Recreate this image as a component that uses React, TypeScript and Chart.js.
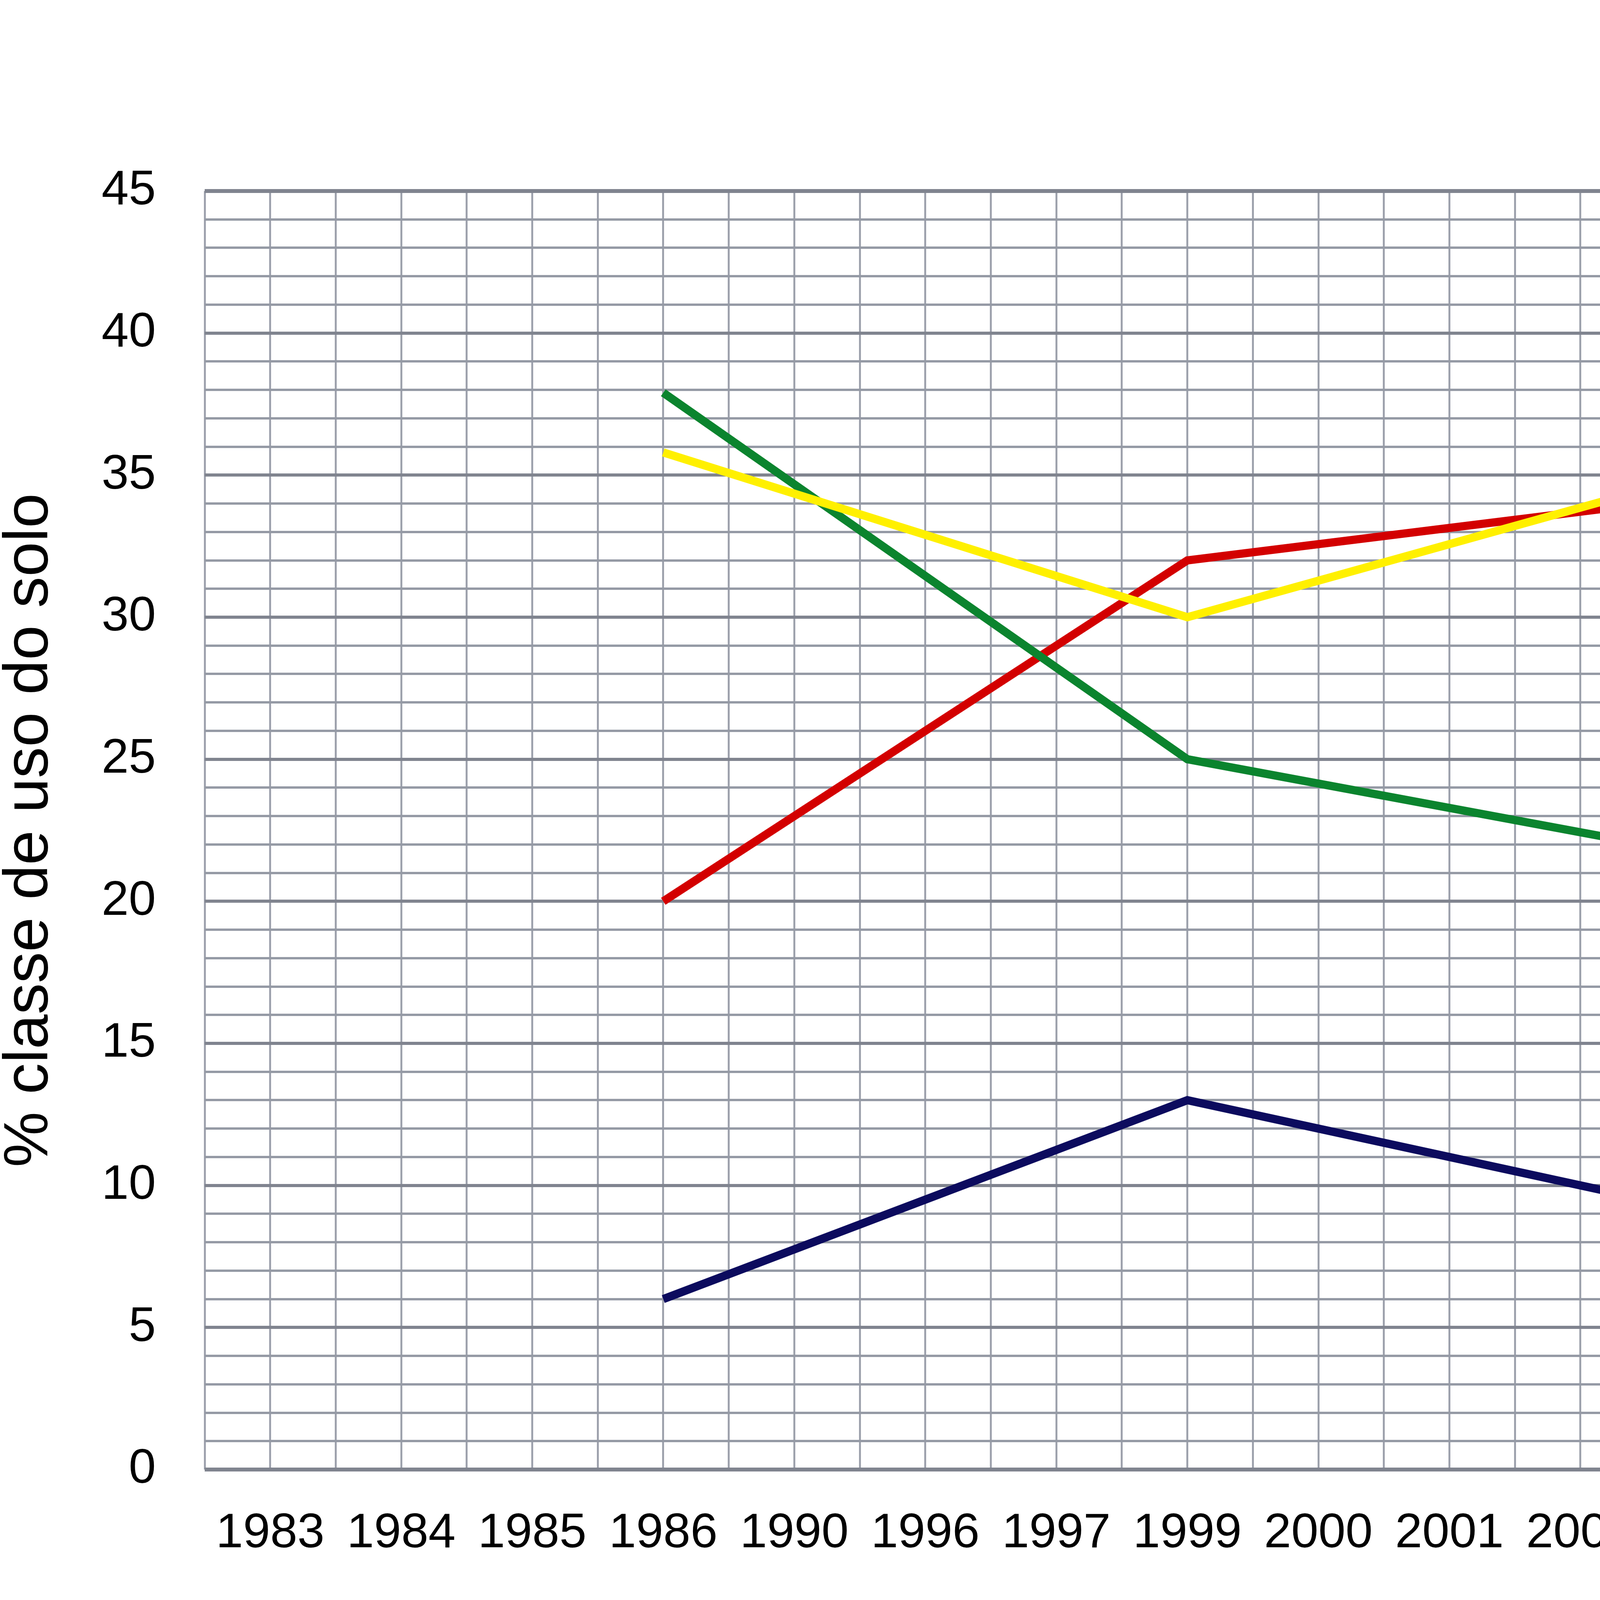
import { useEffect, useRef } from 'react';
import { Chart, registerables } from 'chart.js';

Chart.register(...registerables);

const FONT = '"Liberation Sans", Arial, sans-serif';

const years = ['1983', '1984', '1985', '1986', '1990', '1996', '1997', '1999', '2000', '2001', '2002', '2003', '2004', '2005', '2006', '2009', '2010', '2011', '2012'];

// land-use classes (%), only 1986, 1999, 2006 and 2011 were mapped
const urbano = [null, null, null, 6, null, null, null, 13, null, null, null, null, null, null, 6, null, null, 3.9, null];
const formacaoArborea = [null, null, null, 20, null, null, null, 32, null, null, null, null, null, null, 36, null, null, 39, null];
const campo = [null, null, null, 37.9, null, null, null, 25, null, null, null, null, null, null, 19, null, null, 26, null];
const soloExposto = [null, null, null, 35.8, null, null, null, 30, null, null, null, null, null, null, 39, null, null, 31, null];
// annual mean IQA
const iqa = [null, null, null, null, null, null, null, null, null, null, null, null, null, null, null, null, null, 18.2, 16.5];

const seriesNames = ['Urbano', 'Formação arbórea', 'Campo', 'Solo exposto', 'IQA'];
const lineColors = ['#0c0b5e', '#d30000', '#0b842e', '#fff000', '#000000'];
const legendColors = ['#4f81bd', '#c0504d', '#9bbb59', '#8064a2', '#4bacc6'];

const eteMarkers = [
  { year: '2010', side: 'left', lines: ['ETE São João', 'início da operação'] },
  { year: '2011', side: 'right', lines: ['ETE Bonsucesso', 'início da operação'] },
];
const pessimoRange = [0, 19];

const overlayPlugin = {
  id: 'overlay',
  afterDatasetsDraw(chart: any) {
    const { ctx, chartArea, scales } = chart;
    const x = scales.x;
    const y1 = scales.y1;
    ctx.save();

    // ETE start-of-operation markers
    ctx.font = `137px ${FONT}`;
    ctx.fillStyle = '#000';
    ctx.textAlign = 'center';
    ctx.textBaseline = 'alphabetic';
    eteMarkers.forEach((m) => {
      const px = x.getPixelForValue(years.indexOf(m.year));
      ctx.strokeStyle = '#000';
      ctx.lineWidth = 8;
      ctx.beginPath();
      ctx.moveTo(px, 279);
      ctx.lineTo(px, chartArea.bottom);
      ctx.stroke();
      const w = Math.max(...m.lines.map((t) => ctx.measureText(t).width));
      const cx = m.side === 'left' ? px - 80 - w / 2 : px + 82 + w / 2;
      m.lines.forEach((t, i) => ctx.fillText(t, cx, 98 + i * 155));
    });

    // "Péssimo" band on the IQA axis
    const yTop = y1.getPixelForValue(pessimoRange[1]);
    const yBot = y1.getPixelForValue(pessimoRange[0]);
    const ax = 7558;
    ctx.strokeStyle = '#b0b0b0';
    ctx.lineWidth = 3;
    [yTop, yBot].forEach((yy) => {
      ctx.beginPath();
      ctx.moveTo(chartArea.right, yy);
      ctx.lineTo(ax + 18, yy);
      ctx.stroke();
    });
    ctx.strokeStyle = '#8a8a8a';
    ctx.beginPath();
    ctx.moveTo(ax, yTop + 40);
    ctx.lineTo(ax, yBot - 40);
    ctx.stroke();
    ctx.fillStyle = '#000';
    ctx.beginPath();
    ctx.moveTo(ax, yTop);
    ctx.lineTo(ax - 26, yTop + 52);
    ctx.lineTo(ax + 26, yTop + 52);
    ctx.closePath();
    ctx.fill();
    ctx.beginPath();
    ctx.moveTo(ax, yBot);
    ctx.lineTo(ax - 26, yBot - 52);
    ctx.lineTo(ax + 26, yBot - 52);
    ctx.closePath();
    ctx.fill();

    ctx.save();
    ctx.translate(7656, (yTop + yBot) / 2);
    ctx.rotate(-Math.PI / 2);
    ctx.font = `136px ${FONT}`;
    ctx.textAlign = 'center';
    ctx.textBaseline = 'alphabetic';
    ctx.fillText('Péssimo', 0, 0);
    ctx.restore();

    // right axis title, reading bottom to top
    ctx.save();
    ctx.translate(7400, (chartArea.top + chartArea.bottom) / 2 - 68);
    ctx.rotate(-Math.PI / 2);
    ctx.font = `162px ${FONT}`;
    ctx.textAlign = 'center';
    ctx.textBaseline = 'alphabetic';
    ctx.fillText('Média anual do IQA', 0, 0);
    ctx.restore();

    ctx.restore();
  },
};

const legendPlugin = {
  id: 'lineLegend',
  afterDraw(chart: any) {
    const { ctx, chartArea } = chart;
    const labels = chart.data.datasets.map((d: any) => d.label as string);
    ctx.save();
    ctx.font = `140px ${FONT}`;
    const swatch = 234;
    const gap = 24;
    const spacing = 166;
    const widths = labels.map((t: string) => ctx.measureText(t).width);
    const total = widths.reduce((s: number, w: number) => s + swatch + gap + w, 0) + spacing * (labels.length - 1);
    let cx = chart.width / 2 - 199 - total / 2;
    const cy = chartArea.bottom + 423;
    ctx.textAlign = 'left';
    ctx.textBaseline = 'middle';
    labels.forEach((t: string, i: number) => {
      ctx.fillStyle = legendColors[i];
      ctx.fillRect(cx, cy - 11, swatch, 22);
      ctx.fillStyle = '#000';
      ctx.fillText(t, cx + swatch + gap, cy);
      cx += swatch + gap + widths[i] + spacing;
    });
    ctx.restore();
  },
};

const majorTick = (v: number) => v % 5 === 0;

function LandUseChart() {
  const canvasRef = useRef<HTMLCanvasElement | null>(null);

  useEffect(() => {
    if (!canvasRef.current) {
      return;
    }

    const line = (label: string, data: (number | null)[], i: number, order: number) => ({
      label,
      data,
      borderColor: lineColors[i],
      backgroundColor: lineColors[i],
      borderWidth: 21,
      pointRadius: 0,
      spanGaps: true,
      tension: 0,
      yAxisID: 'y',
      order,
    });

    const chart = new Chart(canvasRef.current, {
      type: 'line',
      data: {
        labels: years,
        datasets: [
          line(seriesNames[0], urbano, 0, 3),
          line(seriesNames[1], formacaoArborea, 1, 2),
          line(seriesNames[2], campo, 2, 1),
          line(seriesNames[3], soloExposto, 3, 0),
          {
            ...line(seriesNames[4], iqa, 4, 0),
            borderWidth: 20,
            borderDash: [65, 40],
            yAxisID: 'y1',
          },
        ],
      },
      options: {
        animation: false,
        responsive: true,
        maintainAspectRatio: false,
        devicePixelRatio: 1,
        events: [],
        layout: { padding: { top: 489, bottom: 238, left: 0, right: 0 } },
        plugins: {
          legend: { display: false },
          tooltip: { enabled: false },
        },
        scales: {
          x: {
            type: 'category',
            offset: true,
            grid: { display: false, drawTicks: false },
            border: { display: false },
            ticks: {
              color: '#000',
              font: { family: FONT, size: 125 },
              padding: 90,
              autoSkip: false,
              maxRotation: 0,
            },
            afterFit: (scale: any) => {
              scale.height = 300;
            },
          },
          xGrid: {
            type: 'linear',
            position: 'top',
            min: 0,
            max: years.length,
            ticks: { display: false, stepSize: 0.5, maxTicksLimit: 1000 },
            grid: { color: '#9ea2ad', lineWidth: 5, drawTicks: false },
            border: { display: false },
            afterFit: (scale: any) => {
              scale.height = 0;
            },
          },
          y: {
            position: 'left',
            min: 0,
            max: 45,
            ticks: {
              stepSize: 1,
              maxTicksLimit: 1000,
              autoSkip: false,
              color: '#000',
              font: { family: FONT, size: 125 },
              padding: 125,
              callback: (v: any) => (majorTick(Number(v)) ? String(v) : ''),
            },
            grid: {
              drawTicks: false,
              color: (c: any) => (majorTick(c.tick.value) ? '#80848f' : '#959aa5'),
              lineWidth: (c: any) => (c.tick.value === 0 || c.tick.value === 45 ? 10 : majorTick(c.tick.value) ? 8 : 6),
            },
            border: { display: false },
            title: {
              display: true,
              text: '% classe de uso do solo',
              color: '#000',
              font: { family: FONT, size: 160, lineHeight: 0.9 },
              padding: { top: 5, bottom: 0 },
            },
            afterFit: (scale: any) => {
              scale.width = 524;
            },
          },
          y1: {
            position: 'right',
            min: 0,
            max: 45,
            ticks: {
              stepSize: 1,
              maxTicksLimit: 1000,
              autoSkip: false,
              color: '#000',
              font: { family: FONT, size: 125 },
              padding: 125,
              callback: (v: any) => (majorTick(Number(v)) ? String(v) : ''),
            },
            grid: { display: false, drawTicks: false },
            border: { display: false },
            afterFit: (scale: any) => {
              scale.width = 761;
            },
          },
        },
      },
      plugins: [overlayPlugin, legendPlugin],
    } as any);

    return () => {
      chart.destroy();
    };
  }, []);

  return (
    <div style={{ position: 'fixed', left: 0, top: 0, width: 7658, height: 4300, background: '#fff' }}>
      <canvas ref={canvasRef} />
    </div>
  );
}

export default function App() {
  return <LandUseChart />;
}
